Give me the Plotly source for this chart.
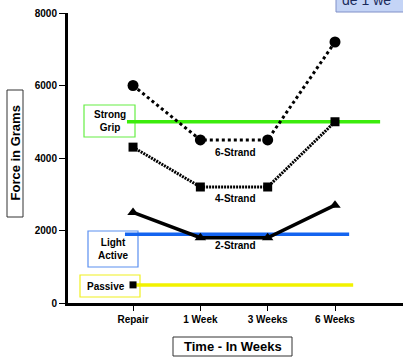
import plotly.graph_objects as go

# ---- data ----
categories = ["Repair", "1 Week", "3 Weeks", "6 Weeks"]
strand6 = [6000, 4500, 4500, 7200]
strand4 = [4300, 3200, 3200, 5000]
strand2 = [2500, 1800, 1800, 2700]
series_names = ["6-Strand", "4-Strand", "2-Strand"]
y_ticks = [0, 2000, 4000, 6000, 8000]

threshold_names = ["Strong<br>Grip", "Light<br>Active", "Passive"]
threshold_values = [5000, 1900, 500]
threshold_start = [-0.09, -0.12, 0.0]
threshold_end = [3.67, 3.21, 3.27]
threshold_colors = ["#3cec0c", "#1464f0", "#f2f200"]
threshold_box_colors = ["#66ee44", "#5a8ff0", "#f0f020"]

W, H = 403, 360
L, R, T, B = 68, 0, 13, 57
pw, ph = W - L - R, H - T - B

def px(x):
    return (x - L) / pw

def py(y):
    return (H - B - y) / ph

xs = list(range(len(categories)))
FONT = "Liberation Sans"

fig = go.Figure()

# threshold lines
for v, x0, x1, c in zip(threshold_values, threshold_start, threshold_end, threshold_colors):
    fig.add_trace(go.Scatter(x=[x0, x1], y=[v, v], mode="lines",
                             line=dict(color=c, width=3.5), hoverinfo="skip", showlegend=False))

# passive marker
fig.add_trace(go.Scatter(x=[0], y=[threshold_values[2]], mode="markers",
                         marker=dict(symbol="square", size=7, color="black"), showlegend=False))

fig.add_trace(go.Scatter(x=xs, y=strand6, mode="lines+markers", name=series_names[0],
                         line=dict(color="black", width=3, dash="dot"),
                         marker=dict(symbol="circle", size=11, color="black"), showlegend=False))
fig.add_trace(go.Scatter(x=xs, y=strand4, mode="lines+markers", name=series_names[1],
                         line=dict(color="black", width=3, dash="2px,1px"),
                         marker=dict(symbol="square", size=9, color="black"), showlegend=False))
fig.add_trace(go.Scatter(x=xs, y=strand2, mode="lines+markers", name=series_names[2],
                         line=dict(color="black", width=3.5),
                         marker=dict(symbol="triangle-up", size=10, color="black"), showlegend=False))

annotations = []
shapes = []

# series labels
label_pos = [(235, 152), (235, 198), (235, 246)]
for name, (lx, ly) in zip(series_names, label_pos):
    annotations.append(dict(text=name, x=px(lx), y=py(ly), xref="paper", yref="paper",
                            showarrow=False, font=dict(family=FONT, size=10, color="black", weight="bold"),
                            xanchor="center", yanchor="middle"))

# threshold label boxes
boxes = [(84, 105, 135, 137), (88, 231, 138, 267), (80, 275, 140, 297)]
for name, (x0, y0, x1, y1), c in zip(threshold_names, boxes, threshold_box_colors):
    shapes.append(dict(type="rect", xref="paper", yref="paper", x0=px(x0), x1=px(x1),
                       y0=py(y1), y1=py(y0), line=dict(color=c, width=1.2), fillcolor="white",
                       layer="below"))
    tx = (x0 + x1) / 2 if "Passive" not in name else 106
    annotations.append(dict(text=name, x=px(tx), y=py((y0 + y1) / 2), xref="paper", yref="paper",
                            showarrow=False, font=dict(family=FONT, size=10, color="black", weight="bold"),
                            xanchor="center", yanchor="middle"))

# axis title boxes
shapes.append(dict(type="rect", xref="paper", yref="paper", x0=px(7), x1=px(23), y0=py(217), y1=py(90),
                   line=dict(color="#333", width=1)))
annotations.append(dict(text="Force in Grams", x=px(15), y=py(153.5), xref="paper", yref="paper",
                        showarrow=False, textangle=-90,
                        font=dict(family=FONT, size=13, color="black", weight="bold"),
                        xanchor="center", yanchor="middle"))
shapes.append(dict(type="rect", xref="paper", yref="paper", x0=px(173), x1=px(292), y0=py(356), y1=py(337),
                   line=dict(color="#333", width=1)))
annotations.append(dict(text="Time - In Weeks", x=px(232.5), y=py(346.5), xref="paper", yref="paper",
                        showarrow=False, font=dict(family=FONT, size=13, color="black", weight="bold"),
                        xanchor="center", yanchor="middle"))

# top-right callout box
shapes.append(dict(type="rect", xref="paper", yref="paper", x0=px(336), x1=px(406), y0=py(12), y1=py(-10),
                   line=dict(color="#8090c8", width=1), fillcolor="#c4d4f6"))
annotations.append(dict(text="de 1 we", x=px(340), y=py(10), xref="paper", yref="paper",
                        showarrow=False, font=dict(family=FONT, size=14, color="#1a2a5a"),
                        xanchor="left", yanchor="bottom"))

fig.update_layout(
    width=W, height=H,
    margin=dict(l=L, r=R, t=T, b=B),
    paper_bgcolor="white", plot_bgcolor="white",
    showlegend=False,
    xaxis=dict(range=[-0.966, 4.01], tickvals=xs, ticktext=categories,
               showgrid=False, zeroline=False, showline=True, linecolor="black", linewidth=3,
               ticks="outside", ticklen=5, tickwidth=1, tickcolor="black",
               tickfont=dict(family=FONT, size=10, color="black", weight="bold")),
    yaxis=dict(range=[0, 8000], tickvals=y_ticks, ticktext=[str(v) for v in y_ticks],
               showgrid=False, zeroline=False, showline=True, linecolor="black", linewidth=3,
               ticks="outside", ticklen=6, tickwidth=1, tickcolor="black",
               tickfont=dict(family=FONT, size=10, color="black", weight="bold")),
    shapes=shapes, annotations=annotations,
)

fig.write_html("out.html", config={"displayModeBar": False},
               post_script="document.body.style.margin='0';document.body.style.overflow='hidden';")
